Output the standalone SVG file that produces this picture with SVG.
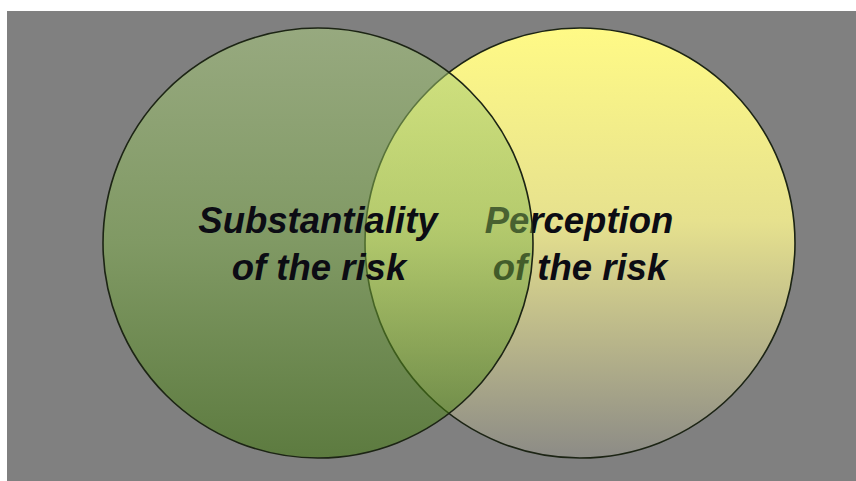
<svg xmlns="http://www.w3.org/2000/svg" width="856" height="481" viewBox="0 0 856 481">
  <style>
    .ring { stroke: #1c2414; stroke-width: 1.6; }
    .label { font-family: "Liberation Sans", Arial, sans-serif; font-size: 36.5px; font-weight: bold; font-style: italic; fill: #0c0c14; text-anchor: middle; }
  </style>
  <defs>
    <linearGradient id="yellowFill" x1="0" y1="0" x2="0" y2="1">
      <stop offset="0" stop-color="#fffa86"/>
      <stop offset="0.45" stop-color="#e6e18e"/>
      <stop offset="1" stop-color="#8c8b86"/>
    </linearGradient>
    <linearGradient id="greenFill" x1="0" y1="0" x2="0" y2="1">
      <stop offset="0" stop-color="#aed27e"/>
      <stop offset="0.5" stop-color="#80b248"/>
      <stop offset="1" stop-color="#3a7600"/>
    </linearGradient>
  </defs>

  <!-- page background -->
  <rect x="0" y="0" width="856" height="481" fill="#ffffff"/>
  <rect x="7" y="11" width="849" height="470" fill="#808080"/>

  <!-- perception set (drawn first, sits underneath) -->
  <g id="perception">
    <circle class="ring" cx="580" cy="243" r="215" fill="url(#yellowFill)"/>
    <text class="label" x="579" y="233">Perception</text>
    <text class="label" x="580" y="280">of the risk</text>
  </g>

  <!-- substantiality set, translucent on top -->
  <g id="substantiality">
    <circle class="ring" cx="318" cy="243" r="215" fill="url(#greenFill)" fill-opacity="0.5"/>
    <text class="label" x="318" y="233">Substantiality</text>
    <text class="label" x="319" y="280">of the risk</text>
  </g>

  <g id="connectors"></g>
</svg>
